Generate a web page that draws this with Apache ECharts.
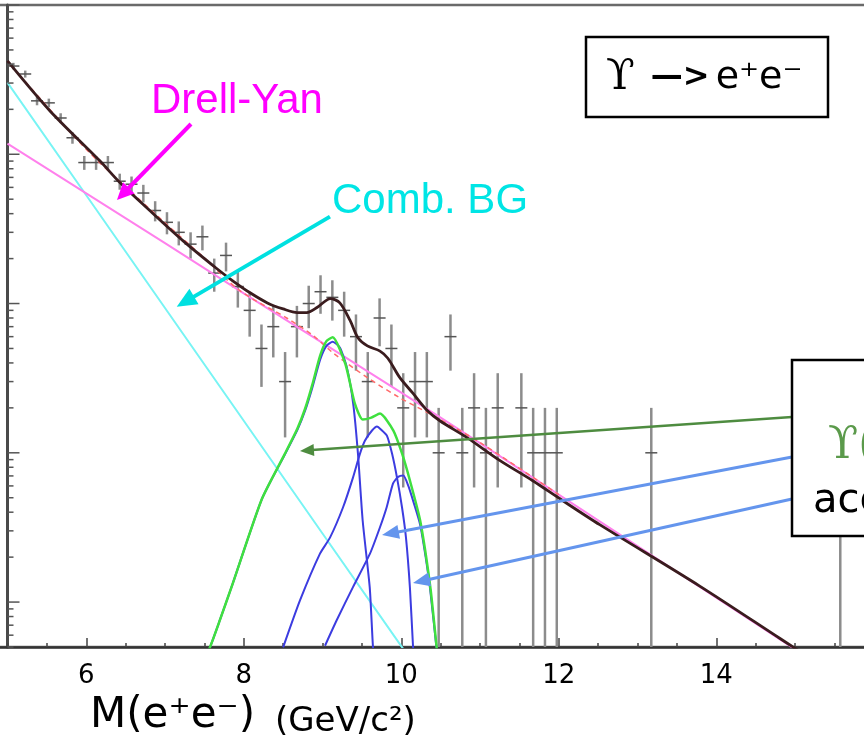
<!DOCTYPE html>
<html>
<head>
<meta charset="utf-8">
<script src="https://cdn.jsdelivr.net/npm/echarts@6/dist/echarts.min.js"></script>
<style>
  html, body { margin: 0; padding: 0; background: #fff; }
  #chart { width: 864px; height: 742px; }
</style>
</head>
<body>
<div id="chart"></div>
<script>
// ---- measured e+e- pairs: bin centres (GeV/c^2) and counts per bin ----
const massBins = [5.075, 5.225, 5.375, 5.525, 5.675, 5.825, 5.975, 6.125, 6.275, 6.425,
  6.575, 6.725, 6.875, 7.025, 7.175, 7.325, 7.475, 7.625, 7.775, 7.925,
  8.075, 8.225, 8.375, 8.525, 8.675, 8.825, 8.975, 9.125, 9.275, 9.425,
  9.575, 9.725, 9.875, 10.025, 10.175, 10.325, 10.475, 10.625, 10.775, 10.925,
  11.075, 11.225, 11.525, 11.675, 11.825, 11.975, 13.175, 15.575];
const eventCounts = [390, 345, 228, 221, 175, 129, 88, 88, 88, 66,
  63, 55, 42, 35, 30, 25, 28, 16, 21, 13,
  9, 5, 7, 3, 7, 10, 12, 11, 9, 6,
  3, 8, 5, 2, 3, 3, 1, 6, 1, 2,
  1, 2, 2, 1, 1, 1, 1, 1];

// ---- fit components [mass, yield] ----
const totalFit = [[5.0, 422], [5.54, 195], [6.175, 90], [6.43, 64.4], [6.81, 41.8], [7.23, 26.3],
  [7.66, 17.1], [7.86, 14.2], [8.08, 11.8], [8.3, 10.1], [8.5, 9.2], [8.68, 8.7], [8.8, 8.7],
  [8.93, 9.4], [9.1, 10.8], [9.22, 10.1], [9.35, 7.7], [9.45, 5.9], [9.57, 5.2], [9.73, 4.8],
  [9.83, 4.3], [9.98, 3.2], [10.15, 2.5], [10.33, 1.92], [10.49, 1.64], [10.84, 1.26],
  [11.25, 0.89], [11.67, 0.65], [12.02, 0.49], [12.52, 0.33], [13.79, 0.128], [14.81, 0.057],
  [15.5, 0.033]];
const drellYan = [[5, 118], [6, 54.7], [7, 25.4], [8, 11.7], [9, 5.45], [10, 2.53], [10.5, 1.72],
  [11, 1.16], [12, 0.524], [13, 0.237], [14, 0.107], [15, 0.0483], [16, 0.0218]];
const combBG = [[5, 302], [6, 53.1], [7, 9.33], [8, 1.64], [9, 0.288], [10, 0.0507], [10.5, 0.0213]];
const continuumSum = [[5, 420], [6, 108], [7, 34.7], [7.5, 20.2], [7.95, 12.2], [8.55, 7.97],
  [8.88, 6.1], [9.13, 4.69], [9.57, 3.19], [9.98, 2.34], [10.4, 1.78], [11, 1.17], [12, 0.525]];
const upsilonSum = [[7.40, 0.032], [7.57, 0.0497], [7.70, 0.0765], [7.86, 0.133], [8.23, 0.49],
  [8.52, 0.98], [8.68, 1.45], [8.78, 1.98], [8.87, 2.85], [8.97, 4.48], [9.05, 5.6], [9.13, 5.95],
  [9.29, 3.95], [9.41, 2.14], [9.51, 1.67], [9.62, 1.72], [9.73, 1.83], [9.9, 1.41], [10.01, 0.99],
  [10.11, 0.652], [10.24, 0.352], [10.37, 0.125], [10.45, 0.0497], [10.5, 0.03]];
const upsilon1S = [[7.40, 0.032], [7.57, 0.0497], [7.70, 0.0765], [7.86, 0.133], [8.23, 0.49],
  [8.52, 0.97], [8.68, 1.42], [8.78, 1.92], [8.87, 2.72], [8.97, 4.2], [9.05, 5.2], [9.13, 5.55],
  [9.22, 5.08], [9.31, 3.72], [9.39, 2.13], [9.45, 0.99], [9.51, 0.352], [9.60, 0.125],
  [9.64, 0.051], [9.67, 0.035]];
const upsilon2S = [[8.50, 0.0497], [8.714, 0.1025], [8.968, 0.211], [9.095, 0.27], [9.26, 0.43],
  [9.387, 0.682], [9.476, 0.988], [9.54, 1.21], [9.629, 1.41], [9.692, 1.50], [9.75, 1.42],
  [9.819, 1.30], [9.883, 0.988], [9.946, 0.682], [10.01, 0.43], [10.06, 0.27], [10.11, 0.125],
  [10.149, 0.051], [10.17, 0.035]];
const upsilon3S = [[9.032, 0.051], [9.18, 0.0755], [9.387, 0.126], [9.603, 0.211], [9.73, 0.317],
  [9.815, 0.432], [9.895, 0.622], [9.96, 0.69], [10.026, 0.704], [10.09, 0.60], [10.16, 0.46],
  [10.24, 0.33], [10.31, 0.2], [10.37, 0.118], [10.45, 0.048], [10.5, 0.03]];

// ---- axis ticks ----
const xTickLabels = ['6', '8', '10', '12', '14'];
const yDecades = [0.01, 0.1, 1, 10, 100, 1000];

// ---- annotation arrows: tail and head in (mass, yield) ----
const arrowTails = [[7.330, 159.5], [9.095, 38.2], [14.962, 1.738], [14.962, 0.937], [14.962, 0.490]];
const arrowHeads = [[6.390, 49.4], [7.149, 9.52], [8.714, 1.03], [9.756, 0.2813], [10.149, 0.1342]];

const X_MIN = 4, X_MAX = 16, Y_MIN = 0.05, Y_MAX = 1000;

// log-axis tick marks (major at decades, minor at 2..9)
const yTicks = [];
yDecades.forEach(d => {
  for (let m = 1; m <= 9; m++) {
    const v = d * m;
    if (v >= Y_MIN * 0.999 && v <= Y_MAX * 1.001) yTicks.push([5, v, m === 1 ? 1 : 0]);
  }
});

// data points with statistical (Poisson) errors
const pointData = massBins.map((m, i) => {
  const n = eventCounts[i];
  const e = Math.sqrt(n);
  return [m, n, Math.max(n - e, Y_MIN), n + e];
});

const arrowStyles = [
  { color: '#ff00ff', width: 4, head: 17, headWidth: 16 },
  { color: '#00e0e0', width: 4, head: 20, headWidth: 18 },
  { color: '#4e8c40', width: 2.5, head: 14, headWidth: 12 },
  { color: '#6495ed', width: 3, head: 17, headWidth: 14 },
  { color: '#6495ed', width: 3, head: 17, headWidth: 14 }
];

function curve(name, data, color, width, z, extra) {
  return Object.assign({
    name, type: 'line', data, showSymbol: false, symbol: 'none', smooth: 0.2,
    clip: true, silent: true, z,
    lineStyle: { color, width }
  }, extra || {});
}

const chart = echarts.init(document.getElementById('chart'), null, { renderer: 'canvas' });

const option = {
  animation: false,
  textStyle: { fontFamily: 'DejaVu Sans' },
  grid: {
    left: -71.25, right: -9.75, top: 5, bottom: 95,
    outerBoundsMode: 'none', containLabel: false,
    show: true, borderColor: '#6a6a6a', borderWidth: 2.5, backgroundColor: 'transparent'
  },
  xAxis: {
    type: 'value', min: X_MIN, max: X_MAX, interval: 2,
    axisLine: { show: true, onZero: false, lineStyle: { color: '#333', width: 2.5 } },
    axisTick: { show: true, inside: true, length: 9, lineStyle: { color: '#444', width: 1.5 } },
    minorTick: { show: true, splitNumber: 4, length: 4, lineStyle: { color: '#444', width: 1.5 } },
    splitLine: { show: false },
    axisLabel: {
      margin: 16, fontSize: 26, color: '#000', fontFamily: 'DejaVu Sans',
      formatter: v => (xTickLabels.indexOf(String(v)) >= 0 ? String(v) : '')
    }
  },
  yAxis: {
    type: 'log', logBase: 10, min: Y_MIN, max: Y_MAX, offset: -78.75,
    axisLine: { show: true, lineStyle: { color: '#4a4a4a', width: 3 } },
    axisTick: { show: false }, axisLabel: { show: false }, splitLine: { show: false },
    minorTick: { show: false }
  },
  series: [
    {
      name: 'data', type: 'custom', z: 2, silent: true, clip: true,
      data: pointData,
      renderItem(params, api) {
        const x = api.value(0);
        const c = api.coord([x, api.value(1)]);
        const lo = api.coord([x, api.value(2)]);
        const hi = api.coord([x, api.value(3)]);
        return {
          type: 'group', children: [
            { type: 'line', shape: { x1: c[0], y1: hi[1], x2: c[0], y2: lo[1] },
              style: { stroke: '#8c8c8c', lineWidth: 2.5 } },
            { type: 'line', shape: { x1: c[0] - 6, y1: c[1], x2: c[0] + 6, y2: c[1] },
              style: { stroke: '#555', lineWidth: 1.5 } }
          ]
        };
      }
    },
    curve('Comb. BG', combBG, '#78f4f4', 2, 3, { smooth: false }),
    curve('Drell-Yan', drellYan, '#ff80ec', 2, 3, { smooth: false }),
    curve('DY + BG', continuumSum, '#ff6a6a', 1.5, 3, {
      smooth: 0.3,
      lineStyle: { color: '#ff6a6a', width: 1.5, type: [5, 4] }
    }),
    curve('1S', upsilon1S, '#3c3ce0', 2, 4),
    curve('2S', upsilon2S, '#3c3ce0', 2, 4),
    curve('3S', upsilon3S, '#3c3ce0', 2, 4),
    curve('Upsilon', upsilonSum, '#3fe03f', 2.5, 5),
    curve('Total', totalFit, '#3a1c1e', 2.8, 6, { smooth: 0.3 }),
    {
      name: 'yTicks', type: 'custom', z: 7, silent: true, clip: false,
      data: yTicks,
      renderItem(params, api) {
        const p = api.coord([api.value(0), api.value(1)]);
        const len = api.value(2) ? 12 : 6;
        return { type: 'line', shape: { x1: p[0], y1: p[1], x2: p[0] + len, y2: p[1] },
          style: { stroke: '#555', lineWidth: 1.5 } };
      }
    },
    {
      name: 'arrows', type: 'custom', z: 8, silent: true, clip: false,
      data: arrowTails.map((t, i) => [t[0], t[1], arrowHeads[i][0], arrowHeads[i][1]]),
      renderItem(params, api) {
        const st = arrowStyles[params.dataIndex];
        const s = api.coord([api.value(0), api.value(1)]);
        const t = api.coord([api.value(2), api.value(3)]);
        const dx = t[0] - s[0], dy = t[1] - s[1];
        const L = Math.hypot(dx, dy);
        const ux = dx / L, uy = dy / L, nx = -uy, ny = ux;
        const bx = t[0] - ux * st.head, by = t[1] - uy * st.head;
        const hw = st.headWidth / 2;
        return {
          type: 'group', children: [
            { type: 'line', shape: { x1: s[0], y1: s[1], x2: bx + ux * 2, y2: by + uy * 2 },
              style: { stroke: st.color, lineWidth: st.width } },
            { type: 'polygon',
              shape: { points: [[t[0], t[1]], [bx + nx * hw, by + ny * hw], [bx - nx * hw, by - ny * hw]] },
              style: { fill: st.color } }
          ]
        };
      }
    }
  ],
  graphic: [
    { type: 'rect', z: 100, shape: { x: 586, y: 37, width: 242, height: 80 },
      style: { fill: '#fff', stroke: '#000', lineWidth: 2.5 } },
    { type: 'text', z: 101, x: 606, y: 78,
      style: {
        text: '{u|ϒ}{a|—>}{e|e⁺e⁻}', align: 'left', verticalAlign: 'middle',
        rich: {
          u: { fontFamily: 'DejaVu Serif', fontSize: 42, fill: '#000' },
          a: { fontFamily: 'DejaVu Sans', fontSize: 32, fontWeight: 'bold', fill: '#000',
               padding: [0, 6, 0, 16] },
          e: { fontFamily: 'DejaVu Sans', fontSize: 38, fill: '#000' }
        }
      } },
    { type: 'text', z: 101, x: 151, y: 101,
      style: { text: 'Drell-Yan', font: '42px "Liberation Sans"', fill: '#ff00ff', verticalAlign: 'middle' } },
    { type: 'text', z: 101, x: 332, y: 201,
      style: { text: 'Comb. BG', font: '42px "Liberation Sans"', fill: '#00e5e5', verticalAlign: 'middle' } },
    { type: 'rect', z: 100, shape: { x: 792, y: 360, width: 120, height: 176 },
      style: { fill: '#fff', stroke: '#000', lineWidth: 2.5 } },
    { type: 'text', z: 101, x: 828, y: 447,
      style: { text: 'ϒ(1S+2S+3S)', font: '44px "DejaVu Serif"', fill: '#5b9a4b', verticalAlign: 'middle' } },
    { type: 'text', z: 101, x: 813, y: 502,
      style: { text: 'acceptance', font: '40px "DejaVu Sans"', fill: '#000', verticalAlign: 'middle' } },
    { type: 'text', z: 101, x: 90, y: 716,
      style: { text: 'M(e⁺e⁻)', font: '42px "DejaVu Sans"', fill: '#000', verticalAlign: 'middle' } },
    { type: 'text', z: 101, x: 275, y: 722,
      style: { text: '(GeV/c²)', font: '34px "DejaVu Sans"', fill: '#000', verticalAlign: 'middle' } }
  ]
};

chart.setOption(option);
</script>
</body>
</html>
